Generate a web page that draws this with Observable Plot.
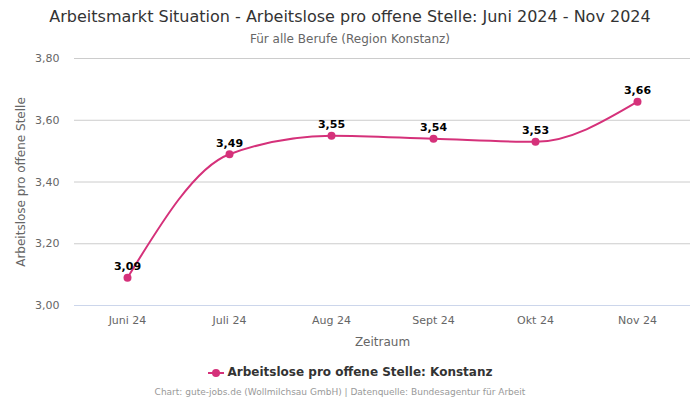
<!DOCTYPE html>
<html><head><meta charset="utf-8">
<script src="https://cdn.jsdelivr.net/npm/d3@7"></script>
<script src="https://cdn.jsdelivr.net/npm/@observablehq/plot@0.6"></script>
<style>
html,body{margin:0;padding:0;background:#fff;}
body{width:700px;height:400px;position:relative;overflow:hidden;font-family:"DejaVu Sans",sans-serif;}
#title{position:absolute;top:7px;left:0;width:700px;text-align:center;font-size:16px;color:#333;}
#subtitle{position:absolute;top:32px;left:0;width:700px;text-align:center;font-size:12px;color:#666;}
#chart{position:absolute;top:45px;left:0;}
#legend{position:absolute;top:365px;left:0;width:700px;text-align:center;font-size:12px;font-weight:bold;color:#333;}
#legend svg{vertical-align:-2px;margin-right:4px;}
#caption{position:absolute;top:387px;left:0;width:680px;text-align:center;font-size:9px;color:#999;}
</style></head>
<body>
<div id="title">Arbeitsmarkt Situation - Arbeitslose pro offene Stelle: Juni 2024 - Nov 2024</div>
<div id="subtitle">Für alle Berufe (Region Konstanz)</div>
<div id="chart"></div>
<div id="legend"><svg width="16" height="10"><line x1="0" y1="5" x2="16" y2="5" stroke="#d5317a" stroke-width="2"/><circle cx="8" cy="5" r="4" fill="#d5317a"/></svg>Arbeitslose pro offene Stelle: Konstanz</div>
<div id="caption">Chart: gute-jobs.de (Wollmilchsau GmbH) | Datenquelle: Bundesagentur für Arbeit</div>
<script>
const months = ["Juni 24","Juli 24","Aug 24","Sept 24","Okt 24","Nov 24"];
const values = [3.09, 3.49, 3.55, 3.54, 3.53, 3.66];
const yTicks = [3.0, 3.2, 3.4, 3.6, 3.8];
const color = "#d5317a";

const de = d3.formatLocale({decimal:",", thousands:".", grouping:[3], currency:["","€"]});
const f2 = de.format(".2f");
const data = months.map((m,i)=>({month:m, value:values[i]}));

const chart = Plot.plot({
  width:700, height:310,
  marginTop:13, marginBottom:50, marginLeft:74, marginRight:10,
  style:{fontFamily:"DejaVu Sans, sans-serif", fontSize:"11px", color:"#666", background:"transparent"},
  x:{type:"point", domain:months, padding:0.5},
  y:{domain:[3.0,3.8]},
  marks:[
    Plot.gridY(yTicks,{stroke:"#ccc", strokeOpacity:1}),
    Plot.ruleY([3.0],{stroke:"#ccd6eb"}),
    Plot.axisY(yTicks,{tickSize:0, tickPadding:15, tickFormat:f2, label:null, fill:"#666", fontSize:11}),
    Plot.axisY([],{label:"Arbeitslose pro offene Stelle", labelAnchor:"center", labelArrow:"none", labelOffset:58, fontSize:12, fill:"#666"}),
    Plot.axisX({tickSize:0, tickPadding:11, label:null, fill:"#666", fontSize:11}),
    Plot.axisX([],{label:"Zeitraum", labelAnchor:"center", labelArrow:"none", labelOffset:40, fontSize:12, fill:"#666"}),
    Plot.line(data,{x:"month", y:"value", stroke:color, strokeWidth:2, curve:"monotone-x"}),
    Plot.dot(data,{x:"month", y:"value", fill:color, r:4}),
    Plot.text(data,{x:"month", y:"value", text:d=>f2(d.value), dy:-11, fontWeight:"bold", fill:"#000", fontSize:11})
  ]
});
document.getElementById("chart").appendChild(chart);
</script>
</body></html>
